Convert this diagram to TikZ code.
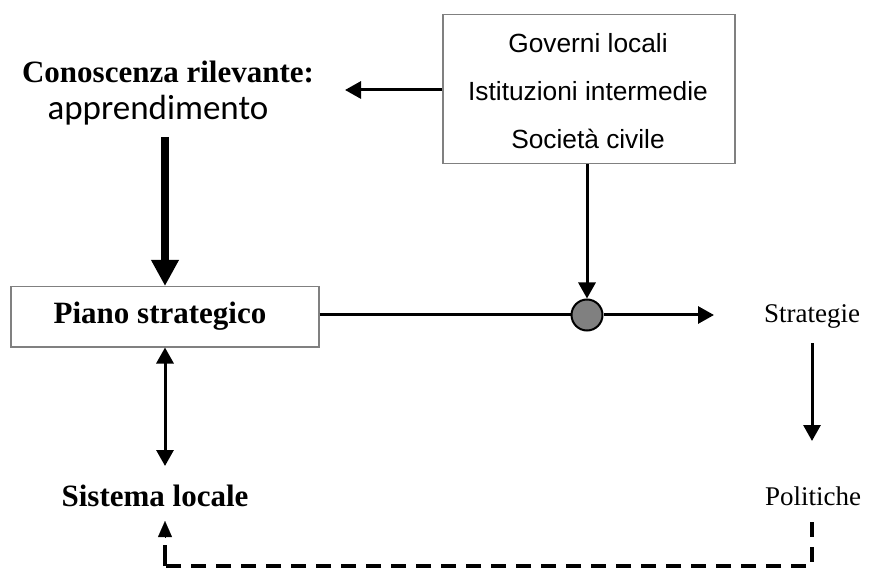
\documentclass[tikz,border=0pt]{standalone}
\usepackage{fontspec}
\setmainfont{Liberation Serif}
\newfontfamily\arialf{Liberation Sans}
\newfontfamily\calib{Carlito}
\usetikzlibrary{arrows.meta}
\begin{document}
\begin{tikzpicture}[x=1pt,y=-1pt,
  grayframe/.style={draw=black!50,line width=1.5pt,fill=white},
  conn/.style={line width=3pt,-{Triangle[length=16pt,width=17pt]}},
  bigconn/.style={line width=8pt,-{Triangle[length=26pt,width=26pt]}},
  dconn/.style={line width=3pt,{Triangle[length=16pt,width=17pt]}-{Triangle[length=16pt,width=17pt]}},
  dashconn/.style={line width=3.5pt,dash pattern=on 15pt off 10pt},
  boldlbl/.style={inner sep=0pt,font=\bfseries\fontsize{31}{36}\selectfont},
  reglbl/.style={inner sep=0pt,font=\fontsize{27}{31}\selectfont},
  boxlbl/.style={inner sep=0pt,anchor=base,font=\arialf\fontsize{26.3}{30}\selectfont}
]
\useasboundingbox[fill=white] (0,0) rectangle (870,569);
% top box
\node[grayframe,minimum width=292pt,minimum height=149pt,anchor=north west] (top) at (442,14) {};
\node[boxlbl] (g1) at (588,53) {Governi locali};
\node[boxlbl] (g2) at (588,101) {Istituzioni intermedie};
\node[boxlbl] (g3) at (588,149) {Società civile};
% left title
\node[boldlbl] (con) at (168,72) {Conoscenza rilevante:};
\node[inner sep=0pt,font=\calib\fontsize{35}{40}\selectfont] (app) at (158,110) {apprendimento};
\coordinate (arrL) at (345,90);
\draw[conn] (top.west |- arrL) -- (arrL);
% piano box
\node[grayframe,minimum width=308pt,minimum height=60pt,anchor=north west] (piano) at (10,286) {};
\node[boldlbl] (pianot) at (160,316) {Piano strategico};
\coordinate (thkS) at (165,137);
\draw[bigconn] (thkS) -- (thkS |- piano.north);
% circle
\node[draw=black,line width=2pt,fill=black!50,circle,minimum size=31pt,inner sep=0pt] (dot) at (587,315) {};
\node[reglbl] (strat) at (812,316) {Strategie};
\node[reglbl] (pol) at (813,496) {Politiche};
\node[boldlbl] (sis) at (155,496) {Sistema locale};
\draw[line width=3pt] (piano.east |- dot) -- (dot.west);
\coordinate (stratL) at (714,315);
\draw[conn] (dot.east) -- (stratL);
\draw[conn] (top.south -| dot) -- (dot.north);
\coordinate (sTop) at (812,343);
\coordinate (sBot) at (812,441);
\draw[conn] (sTop) -- (sBot);
\coordinate (dB) at (165,466);
\draw[dconn] (dB) -- (dB |- piano.south);
% dashed feedback
\coordinate (pd) at (812,522);
\coordinate (cR) at (812,566);
\coordinate (cL) at (165,566);
\coordinate (sd) at (165,521);
\draw[dashconn] (pd) -- (cR) -- (cL);
\draw[line width=3.5pt] (cL) -- (165,545);
\draw[line width=0.1pt,-{Triangle[length=16pt,width=14pt]}] (165,537) -- (sd);
\end{tikzpicture}
\end{document}
